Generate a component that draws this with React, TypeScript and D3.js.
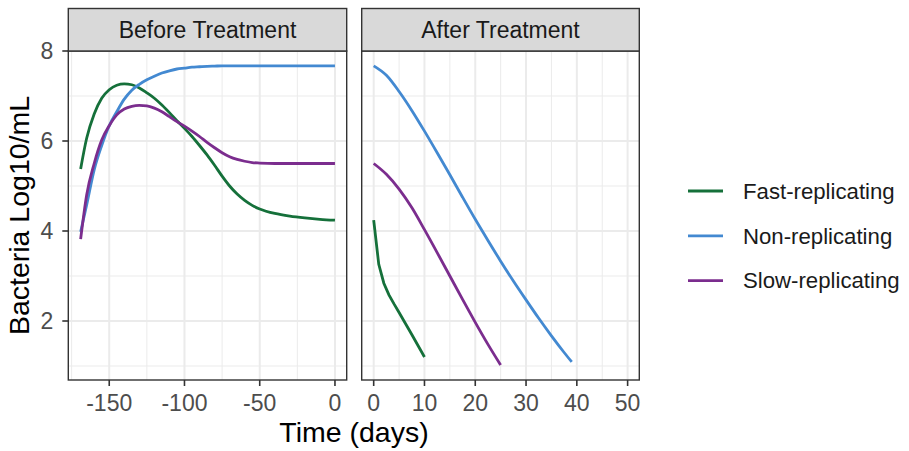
import React from 'react';
import * as d3 from 'd3';

// values
const seriesNames = ['Fast-replicating', 'Non-replicating', 'Slow-replicating'];
const seriesColors = ['#15703A', '#4389D1', '#7B2D8E'];

const beforeDays = [-169, -165, -160, -155, -150, -145, -140, -135, -130, -125, -120, -115, -110, -105, -100,
  -95, -90, -85, -80, -75, -70, -65, -60, -55, -50, -40, -30, -20, -10, 0];
const fastBefore = [5.38, 6.06, 6.6, 6.95, 7.14, 7.24, 7.27, 7.25, 7.18, 7.07, 6.95, 6.8, 6.63, 6.45, 6.28,
  6.1, 5.9, 5.69, 5.46, 5.22, 5.0, 4.82, 4.68, 4.57, 4.49, 4.39, 4.33, 4.29, 4.26, 4.24];
const nonBefore = [3.98, 4.58, 5.36, 5.9, 6.34, 6.65, 6.93, 7.13, 7.26, 7.36, 7.44, 7.51, 7.56, 7.6, 7.62,
  7.64, 7.65, 7.66, 7.665, 7.67, 7.67, 7.67, 7.67, 7.67, 7.67, 7.67, 7.67, 7.67, 7.67, 7.67];
const slowBefore = [3.82, 4.8, 5.5, 6.02, 6.34, 6.58, 6.71, 6.77, 6.79, 6.78, 6.73, 6.65, 6.54, 6.43, 6.33,
  6.22, 6.1, 5.97, 5.85, 5.74, 5.65, 5.59, 5.55, 5.52, 5.51, 5.5, 5.5, 5.5, 5.5, 5.5];

const fastAfterDays = [0, 1, 2, 3, 4, 5, 7.5, 10];
const fastAfter = [4.24, 3.26, 2.84, 2.58, 2.38, 2.19, 1.7, 1.2];
const nonAfterDays = [0, 2.5, 5, 7.5, 10, 12.5, 15, 17.5, 20, 22.5, 25, 27.5, 30, 32.5, 35, 37.5, 39];
const nonAfter = [7.67, 7.46, 7.1, 6.68, 6.22, 5.74, 5.25, 4.75, 4.26, 3.79, 3.33, 2.89, 2.47, 2.06, 1.67, 1.3, 1.09];
const slowAfterDays = [0, 2.5, 5, 7.5, 10, 12.5, 15, 17.5, 20, 22.5, 25];
const slowAfter = [5.5, 5.26, 4.93, 4.52, 4.03, 3.52, 3.0, 2.48, 1.97, 1.48, 1.02];

const panelTitles = ['Before Treatment', 'After Treatment'];
const yTicks = [2, 4, 6, 8];
const yMinor = [1, 3, 5, 7];
const xTicksBefore = [-150, -100, -50, 0];
const xMinorBefore = [-175, -125, -75, -25];
const xTicksAfter = [0, 10, 20, 30, 40, 50];
const xMinorAfter = [5, 15, 25, 35, 45];

const W = 909;
const H = 451;
const FONT = '"Liberation Sans", Arial, Helvetica, sans-serif';
const top = 51;
const bottom = 380;
const stripTop = 8.5;
const small = 23;
const big = 28.5;

const y = d3.scaleLinear().domain([0.689, 8]).range([bottom, top]);
const xBefore = d3.scaleLinear().domain([-177.2, 7.8]).range([68.3, 346.7]);
const xAfter = d3.scaleLinear().domain([-2.36, 52.3]).range([361.7, 639.3]);

type Pt = [number, number];
const zip = (xs: number[], ys: number[]): Pt[] => xs.map((d, i) => [d, ys[i]]);

function Panel({ x, title, majors, minors, lines, curves, yLabels }: {
  x: d3.ScaleLinear<number, number>;
  title: string;
  majors: number[];
  minors: number[];
  lines: Pt[][];
  curves: d3.CurveFactory[];
  yLabels: boolean;
}) {
  const [x0, x1] = x.range();
  return (
    <g>
      <rect x={x0} y={top} width={x1 - x0} height={bottom - top} fill="#fff" />
      {minors.map(v => (
        <line key={'mx' + v} x1={x(v)} x2={x(v)} y1={top} y2={bottom} stroke="#EBEBEB" strokeWidth={1} />
      ))}
      {yMinor.map(v => (
        <line key={'my' + v} x1={x0} x2={x1} y1={y(v)} y2={y(v)} stroke="#EBEBEB" strokeWidth={1} />
      ))}
      {majors.map(v => (
        <line key={'Mx' + v} x1={x(v)} x2={x(v)} y1={top} y2={bottom} stroke="#EBEBEB" strokeWidth={2} />
      ))}
      {yTicks.map(v => (
        <line key={'My' + v} x1={x0} x2={x1} y1={y(v)} y2={y(v)} stroke="#EBEBEB" strokeWidth={2} />
      ))}
      {lines.map((pts, i) => {
        const line = d3.line<Pt>().x(d => x(d[0])).y(d => y(d[1])).curve(curves[i]);
        return <path key={i} d={line(pts) || ''} fill="none" stroke={seriesColors[i]} strokeWidth={2.8} />;
      })}
      <rect x={x0} y={top} width={x1 - x0} height={bottom - top} fill="none" stroke="#333" strokeWidth={1.4} />
      <rect x={x0} y={stripTop} width={x1 - x0} height={top - stripTop} fill="#D9D9D9" stroke="#333" strokeWidth={1.4} />
      <text x={(x0 + x1) / 2} y={(stripTop + top) / 2} dy="0.35em" textAnchor="middle" fontSize={small} fill="#1A1A1A">
        {title}
      </text>
      {majors.map(v => (
        <g key={'t' + v}>
          <line x1={x(v)} x2={x(v)} y1={bottom} y2={bottom + 6} stroke="#333" strokeWidth={1.6} />
          <text x={x(v)} y={411} textAnchor="middle" fontSize={small} fill="#4D4D4D">{v}</text>
        </g>
      ))}
      {yLabels && yTicks.map(v => (
        <g key={'yt' + v}>
          <line x1={x0 - 6} x2={x0} y1={y(v)} y2={y(v)} stroke="#333" strokeWidth={1.6} />
          <text x={x0 - 15} y={y(v)} dy="0.36em" textAnchor="end" fontSize={small} fill="#4D4D4D">{v}</text>
        </g>
      ))}
    </g>
  );
}

export default function App() {
  const beforeLines = [zip(beforeDays, fastBefore), zip(beforeDays, nonBefore), zip(beforeDays, slowBefore)];
  const afterLines = [zip(fastAfterDays, fastAfter), zip(nonAfterDays, nonAfter), zip(slowAfterDays, slowAfter)];
  const smooth = d3.curveMonotoneX;
  const legendY = d3.scalePoint<string>().domain(seriesNames).range([191, 280.7]);
  return (
    <svg width={W} height={H} style={{ position: 'absolute', left: 0, top: 0, fontFamily: FONT }}>
      <rect width={W} height={H} fill="#fff" />
      <Panel x={xBefore} title={panelTitles[0]} majors={xTicksBefore} minors={xMinorBefore}
        lines={beforeLines} curves={[smooth, smooth, smooth]} yLabels />
      <Panel x={xAfter} title={panelTitles[1]} majors={xTicksAfter} minors={xMinorAfter}
        lines={afterLines} curves={[d3.curveLinear, smooth, smooth]} yLabels={false} />
      <text x={354} y={442} textAnchor="middle" fontSize={big} fill="#000">Time (days)</text>
      <text transform={`translate(29,${(top + bottom) / 2}) rotate(-90)`} textAnchor="middle" fontSize={big} fill="#000">
        Bacteria Log10/mL
      </text>
      {seriesNames.map((s, i) => (
        <g key={s}>
          <line x1={688} x2={723} y1={legendY(s)} y2={legendY(s)} stroke={seriesColors[i]} strokeWidth={2.8} />
          <text x={743} y={legendY(s)} dy="0.35em" fontSize={22.2} fill="#1A1A1A">{s}</text>
        </g>
      ))}
    </svg>
  );
}
